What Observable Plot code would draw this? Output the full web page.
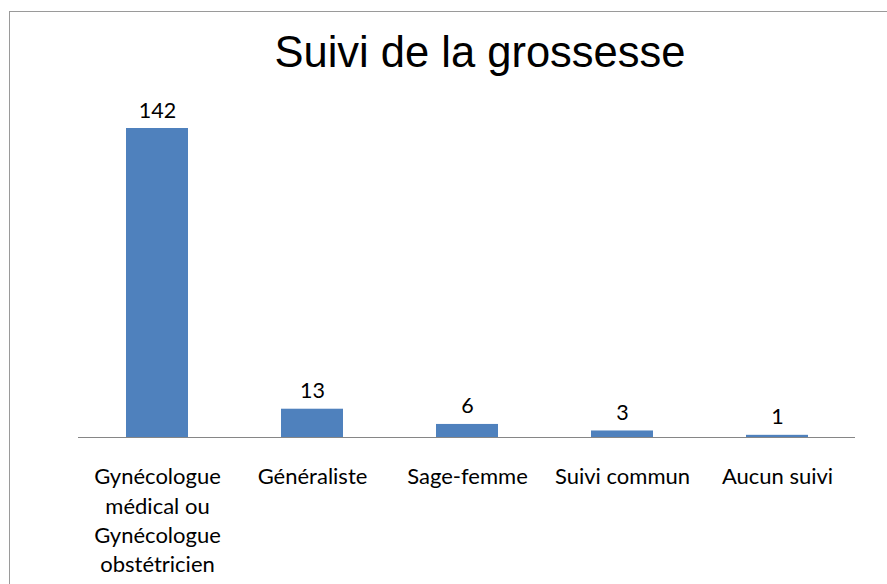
<!DOCTYPE html>
<html>
<head>
<meta charset="utf-8">
<script src="https://cdn.jsdelivr.net/npm/d3@7"></script>
<script src="https://cdn.jsdelivr.net/npm/@observablehq/plot@0.6"></script>
<style>
  html, body { margin: 0; padding: 0; background: #fff; }
  #wrap { position: relative; width: 887px; height: 584px; overflow: hidden; background: #fff; }
  #frame { position: absolute; left: 9px; top: 11px; width: 900px; height: 600px; border: 1.5px solid #9a9a9a; box-sizing: border-box; }
  #title { position: absolute; left: 80px; width: 800px; top: 31px; text-align: center;
           font-family: "Liberation Sans", Arial, sans-serif; font-size: 43.5px; line-height: 1; color: #000; }
  #chart { position: absolute; left: 0; top: 90px; }
</style>
</head>
<body>
<div id="wrap">
  <div id="frame"></div>
  <div id="title">Suivi de la grossesse</div>
  <div id="chart"></div>
</div>
<script>
const categories = [
  "Gynécologue\nmédical ou\nGynécologue\nobstétricien",
  "Généraliste",
  "Sage-femme",
  "Suivi commun",
  "Aucun suivi"
];
const values = [142, 13, 6, 3, 1];

const data = categories.map((c, i) => ({category: c, value: values[i]}));

const font = "Lato, 'Noto Sans', sans-serif";

const chart = Plot.plot({
  width: 887,
  height: 494,
  marginLeft: 78,
  marginRight: 32,
  marginTop: 38,
  marginBottom: 147,
  style: {fontFamily: font, fontSize: "22px", color: "#000", background: "transparent"},
  x: {domain: categories, paddingInner: 0.6, paddingOuter: 0.3, axis: null},
  y: {domain: [0, 142], axis: null},
  marks: [
    Plot.barY(data, {x: "category", y: "value", fill: "#4F81BD"}),
    Plot.ruleY([0], {stroke: "#868686", strokeWidth: 1.2}),
    Plot.text(data, {x: "category", y: "value", text: d => String(d.value), lineAnchor: "bottom", dy: -11, fill: "#000", fontSize: 21.5}),
    Plot.axisX({tickSize: 0, tickPadding: 26, lineHeight: 1.33, fontSize: 22, fill: "#000", label: null})
  ]
});
document.getElementById("chart").appendChild(chart);
</script>
</body>
</html>
